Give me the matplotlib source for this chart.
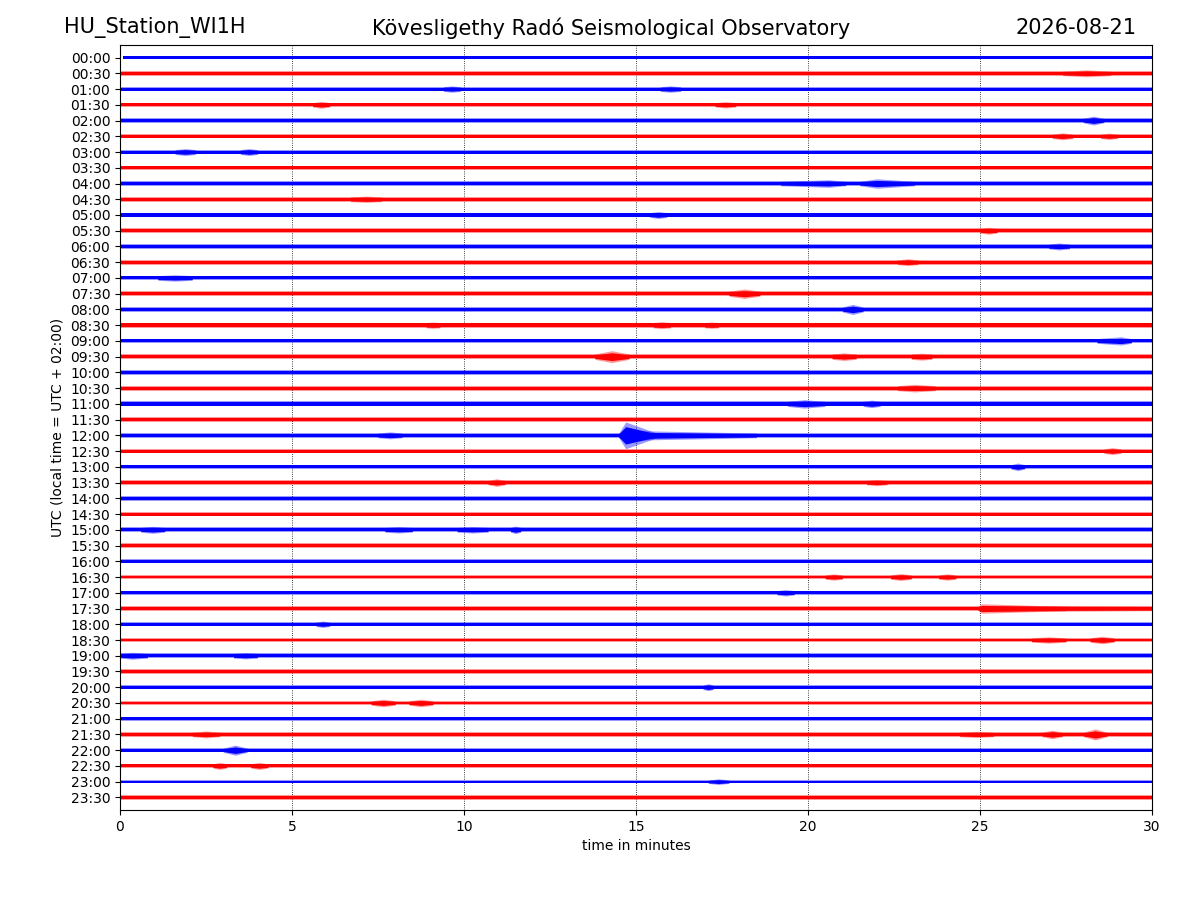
import matplotlib
matplotlib.use("Agg")
import matplotlib.pyplot as plt
import numpy as np

# --- Helicorder data ---
# one trace per 30 minutes, amplitudes in units of the row spacing
row_labels = [f"{h:02d}:{m:02d}" for h in range(24) for m in (0, 30)]

base_amp = [0.12, 0.14, 0.15, 0.14, 0.14, 0.14, 0.15, 0.14,
            0.14, 0.15, 0.15, 0.15, 0.15, 0.15, 0.15, 0.16,
            0.16, 0.17, 0.15, 0.17, 0.14, 0.16, 0.16, 0.14,
            0.15, 0.14, 0.14, 0.14, 0.14, 0.14, 0.15, 0.14,
            0.13, 0.14, 0.14, 0.14, 0.14, 0.14, 0.15, 0.14,
            0.14, 0.14, 0.12, 0.14, 0.13, 0.14, 0.11, 0.14]

trace_start = [0.1] + [0.0] * 47

# bursts: row, onset minute, peak minute, end minute, peak half amplitude
ev_row = [1, 2, 2, 3, 3, 4, 5, 5, 6, 6,
          8, 8, 9, 10, 11, 12, 13, 14, 15, 16,
          17, 17, 17, 18, 19, 19, 19, 21, 22, 22,
          24, 24, 24, 25, 26, 27, 27, 30, 30, 30,
          30, 33, 33, 33, 34, 35, 35, 36, 37, 37,
          38, 38, 40, 41, 41, 43, 43, 43, 43, 44,
          45, 45, 46]
ev_on = [27.4, 9.4, 15.7, 5.6, 17.3, 28.0, 27.1, 28.5, 1.6, 3.5,
         19.2, 21.5, 6.7, 15.4, 25.0, 27.0, 22.6, 1.1, 17.7, 21.0,
         15.5, 17.0, 8.9, 28.4, 13.8, 20.7, 23.0, 22.6, 19.4, 21.6,
         7.5, 14.5, 14.5, 28.6, 25.9, 10.7, 21.7, 0.6, 7.7, 9.8,
         11.35, 20.5, 22.4, 23.8, 19.1, 24.95, 24.95, 5.7, 26.5, 28.2,
         0.0, 3.3, 16.95, 7.3, 8.4, 2.1, 24.4, 26.8, 28.0, 3.0,
         2.7, 3.8, 17.1]
ev_peak = [28.1, 9.65, 16.0, 5.85, 17.6, 28.3, 27.4, 28.75, 1.9, 3.75,
           20.6, 22.0, 7.15, 15.65, 25.25, 27.3, 22.9, 1.6, 18.15, 21.3,
           15.75, 17.2, 9.1, 29.1, 14.3, 21.05, 23.3, 23.1, 19.9, 21.85,
           7.85, 14.7, 15.0, 28.85, 26.1, 10.95, 22.0, 0.95, 8.1, 10.25,
           11.5, 20.75, 22.7, 24.05, 19.35, 25.05, 26.0, 5.9, 27.0, 28.55,
           0.35, 3.65, 17.1, 7.65, 8.75, 2.5, 24.9, 27.1, 28.35, 3.35,
           2.9, 4.05, 17.4]
ev_end = [28.8, 9.9, 16.3, 6.1, 17.9, 28.6, 27.7, 29.0, 2.2, 4.0,
          21.1, 23.1, 7.6, 15.9, 25.5, 27.6, 23.2, 2.1, 18.6, 21.6,
          16.0, 17.4, 9.3, 29.4, 14.8, 21.4, 23.6, 23.7, 20.5, 22.1,
          8.2, 15.6, 18.5, 29.1, 26.3, 11.2, 22.3, 1.3, 8.5, 10.7,
          11.65, 21.0, 23.0, 24.3, 19.6, 27.5, 30.0, 6.1, 27.5, 28.9,
          0.8, 4.0, 17.25, 8.0, 9.1, 2.9, 25.4, 27.4, 28.7, 3.7,
          3.1, 4.3, 17.7]
ev_amp = [0.22, 0.20, 0.20, 0.22, 0.20, 0.28, 0.22, 0.20, 0.22, 0.22,
          0.24, 0.30, 0.20, 0.22, 0.22, 0.22, 0.22, 0.20, 0.30, 0.32,
          0.22, 0.20, 0.20, 0.26, 0.38, 0.24, 0.22, 0.24, 0.27, 0.24,
          0.22, 0.85, 0.30, 0.22, 0.24, 0.24, 0.20, 0.22, 0.20, 0.20,
          0.24, 0.20, 0.22, 0.20, 0.20, 0.30, 0.19, 0.20, 0.20, 0.24,
          0.22, 0.20, 0.22, 0.24, 0.24, 0.22, 0.20, 0.27, 0.35, 0.32,
          0.22, 0.22, 0.18]

colors = ["blue", "red"]

fig = plt.figure(figsize=(12, 9), dpi=100)
ax = fig.add_axes([0.1, 0.1, 0.86, 0.85])


def band(x, y0, amp, c):
    # light outer fringe + dense core, like a noisy trace seen from afar
    amp = np.asarray(amp)
    ax.fill_between(x, y0 - amp, y0 + amp, color=c, alpha=0.4, linewidth=0)
    ax.fill_between(x, y0 - 0.65 * amp, y0 + 0.65 * amp, color=c, linewidth=0)


for i in range(len(row_labels)):
    c = colors[i % 2]
    b = base_amp[i]
    band([trace_start[i], 30], i, [b, b], c)
    for r, t0, tp, t1, a in zip(ev_row, ev_on, ev_peak, ev_end, ev_amp):
        if r == i:
            band([t0, tp, t1], i, [b, a, b], c)

ax.set_xlim(0, 30)
ax.set_ylim(47.8, -0.8)
ax.set_yticks(range(len(row_labels)))
ax.set_yticklabels(row_labels)
ax.set_xticks([0, 5, 10, 15, 20, 25, 30])
ax.xaxis.grid(True, linestyle=":", color="black", linewidth=0.6)
ax.set_axisbelow(True)
ax.set_xlabel("time in minutes")
ax.set_ylabel("UTC (local time = UTC + 02:00)")

fig.text(0.0533, 0.969, "HU_Station_WI1H", fontsize=15, ha="left", va="center")
fig.text(0.509, 0.969, "Kövesligethy Radó Seismological Observatory", fontsize=15, ha="center", va="center")
fig.text(0.9467, 0.969, "2026-08-21", fontsize=15, ha="right", va="center")

fig.savefig("out.png", dpi=100)
